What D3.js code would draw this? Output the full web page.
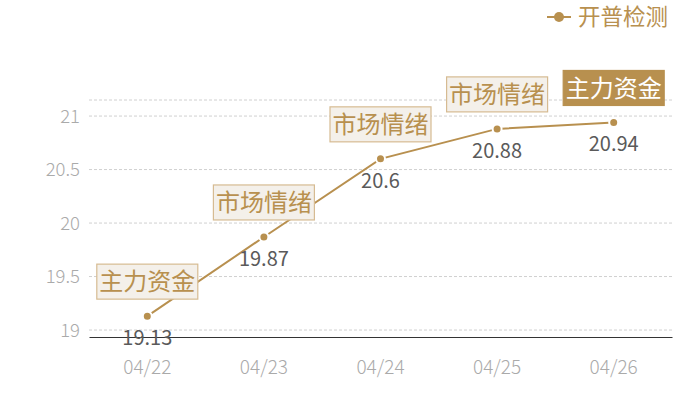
<!DOCTYPE html>
<html>
<head>
<meta charset="utf-8">
<script src="https://cdn.jsdelivr.net/npm/d3@7"></script>
<style>
  body { margin: 0; background: #fff; }
  text { font-family: "Noto Sans CJK SC", "Noto Sans", sans-serif; }
</style>
</head>
<body>
<svg id="chart"></svg>
<script>
let width = 700,
    height = 400;

// data
let dates = ['04/22', '04/23', '04/24', '04/25', '04/26'];
let values = [19.13, 19.87, 20.6, 20.88, 20.94];
let tags = ['主力资金', '市场情绪', '市场情绪', '市场情绪', '主力资金'];
let yTicks = [19, 19.5, 20, 20.5, 21];
let seriesName = '开普检测';

let gold = '#b8904f';
let margin = {left: 89, right: 28, top: 100, bottom: 63};

let svg = d3.select('svg#chart')
    .attr('width', width)
    .attr('height', height);

let x = d3.scaleBand()
    .domain(dates)
    .range([margin.left, width - margin.right]);

let y = d3.scaleLinear()
    .domain([18.935, 21.15])
    .range([height - margin.bottom, margin.top]);

// grid lines
svg.append('g')
    .selectAll('line')
    .data(yTicks.concat([21.15]))
    .join('line')
    .attr('x1', margin.left)
    .attr('x2', width - margin.right)
    .attr('y1', d => y(d))
    .attr('y2', d => y(d))
    .attr('stroke', '#d0d0d0')
    .attr('stroke-dasharray', '3,2');

// y axis labels
svg.append('g')
    .selectAll('text')
    .data(yTicks)
    .join('text')
    .attr('x', 80)
    .attr('y', d => y(d))
    .attr('dy', '0.35em')
    .attr('text-anchor', 'end')
    .attr('font-size', 18.5)
    .attr('font-weight', 300)
    .attr('fill', '#aaaaaa')
    .text(d => d);

// x axis
let xAxis = svg.append('g')
    .attr('transform', `translate(0,${height - margin.bottom})`)
    .call(d3.axisBottom(x).tickSize(0).tickPadding(24));
xAxis.select('.domain').attr('stroke', '#333');
xAxis.selectAll('text')
    .attr('font-size', 19)
    .attr('font-weight', 300)
    .attr('fill', '#aaaaaa')
    .style('font-family', '"Noto Sans CJK SC", sans-serif');

let cx = d => x(d) + x.bandwidth() / 2;

// line
svg.append('path')
    .datum(values)
    .attr('fill', 'none')
    .attr('stroke', gold)
    .attr('stroke-width', 2)
    .attr('d', d3.line()
        .x((d, i) => cx(dates[i]))
        .y(d => y(d)));

// points
svg.append('g')
    .selectAll('circle')
    .data(values)
    .join('circle')
    .attr('cx', (d, i) => cx(dates[i]))
    .attr('cy', d => y(d))
    .attr('r', 4.5)
    .attr('fill', gold)
    .attr('stroke', '#fff')
    .attr('stroke-width', 2);

// value labels
svg.append('g')
    .selectAll('text')
    .data(values)
    .join('text')
    .attr('x', (d, i) => cx(dates[i]))
    .attr('y', d => y(d) + 22)
    .attr('dy', '0.35em')
    .attr('text-anchor', 'middle')
    .attr('font-size', 20)
    .attr('fill', '#5a5a5a')
    .text(d => d);

// tag boxes
let tag = svg.append('g')
    .selectAll('g')
    .data(values)
    .join('g')
    .attr('transform', (d, i) => `translate(${cx(dates[i])},${y(d) - 17})`);

tag.append('rect')
    .attr('x', -50.5)
    .attr('y', -35)
    .attr('width', 101)
    .attr('height', 35)
    .attr('fill', (d, i) => i === 4 ? gold : '#f4f0ea')
    .attr('stroke', (d, i) => i === 4 ? gold : '#d6bb92')
    .attr('stroke-width', 1.2);

tag.append('text')
    .attr('y', -17.5)
    .attr('dy', '0.36em')
    .attr('text-anchor', 'middle')
    .attr('font-size', 24)
    .attr('fill', (d, i) => i === 4 ? '#fff' : gold)
    .text((d, i) => tags[i]);

// legend
let legend = svg.append('g').attr('transform', 'translate(547,17)');
legend.append('line')
    .attr('x1', 0).attr('x2', 24)
    .attr('stroke', gold).attr('stroke-width', 2);
legend.append('circle')
    .attr('cx', 12).attr('r', 5)
    .attr('fill', gold);
legend.append('text')
    .attr('x', 31)
    .attr('dy', '0.36em')
    .attr('font-size', 22.5)
    .attr('fill', gold)
    .text(seriesName);
</script>
</body>
</html>
